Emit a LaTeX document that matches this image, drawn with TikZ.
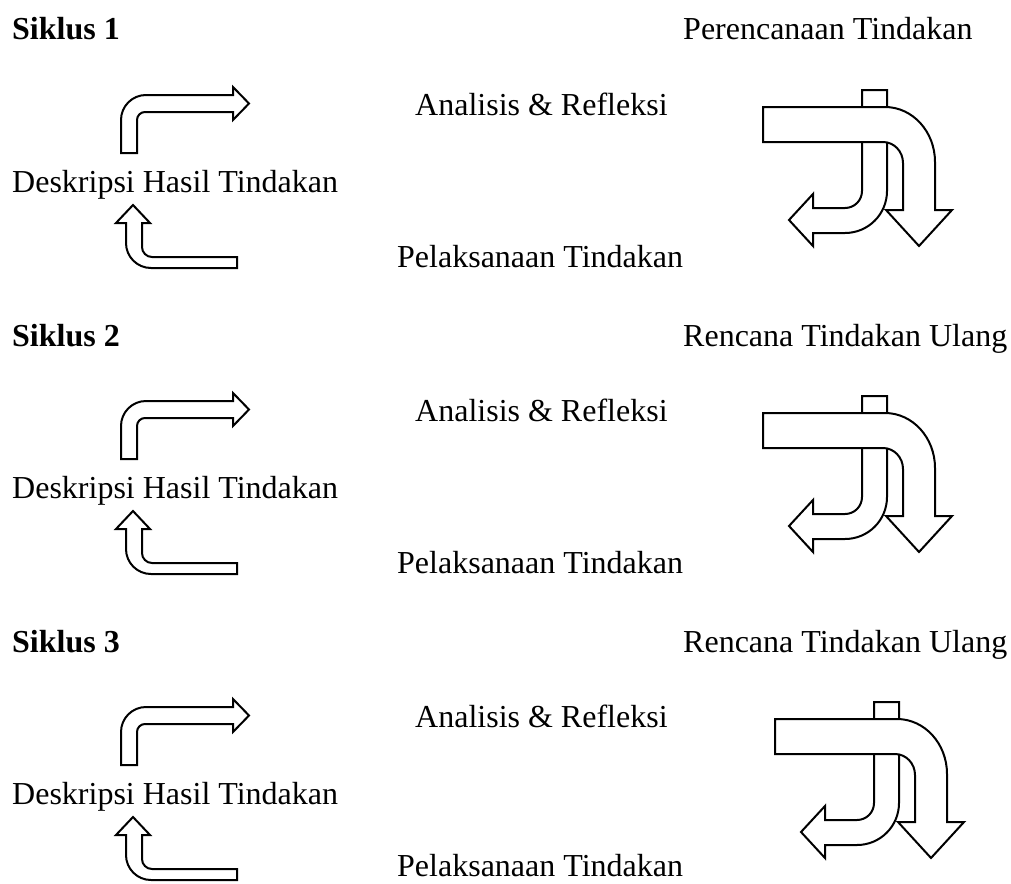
\documentclass[tikz,border=0pt]{standalone}
\usepackage{fontspec}
\setmainfont{Liberation Serif}
\begin{document}
\begin{tikzpicture}[x=1pt,y=-1pt,
  lbl/.style={anchor=base west,inner sep=0pt,font=\fontsize{32}{38}\selectfont},
  ttl/.style={lbl,font=\fontsize{32}{38}\selectfont\bfseries},
  arr/.style={draw=black,fill=white,line width=2pt,line join=miter}]
\useasboundingbox (0,0) rectangle (1011,883);
\foreach \s/\t/\rt/\dx/\pb in {0/1/Perencanaan Tindakan/0/267, 306/2/Rencana Tindakan Ulang/0/267, 612/3/Rencana Tindakan Ulang/12/264}{
\begin{scope}[shift={(0,\s)}]
  \node[ttl] (siklus\t) at (12,40) {Siklus \t};
  \node[lbl] (plan\t) at (683,40) {\rt};
  \node[lbl] (analisis\t) at (415,115) {Analisis \& Refleksi};
  \node[lbl] (desk\t) at (12,192) {Deskripsi Hasil Tindakan};
  \node[lbl] (pelak\t) at (397,\pb) {Pelaksanaan Tindakan};
  % top-left bent arrow
  \draw[arr] (121,153) -- (121,120) .. controls (121,106.2) and (132.2,95) .. (146,95)
    -- (233,95) -- (233,87) -- (249,103.5) -- (233,120) -- (233,112) -- (145,112)
    .. controls (140.6,112) and (137,115.6) .. (137,120) -- (137,153) -- cycle;
  % bottom-left bent arrow
  \draw[arr] (133,205) -- (150,223) -- (142,223) -- (142,247)
    .. controls (142,252.5) and (146.5,257) .. (152,257) -- (237,257) -- (237,268)
    -- (151,268) .. controls (137.2,268) and (126,256.8) .. (126,243)
    -- (126,223) -- (116,223) -- cycle;
  % right compound arrow
  \begin{scope}[shift={(\dx,0)}]
  \draw[arr] (862,90) -- (887,90) -- (887,191) .. controls (887,214.2) and (868.2,233) .. (845,233)
    -- (813,233) -- (813,246) -- (789,220) -- (813,194) -- (813,208) -- (845,208)
    .. controls (854.4,208) and (862,200.4) .. (862,191) -- cycle;
  \draw[arr] (763,107) -- (885,107) .. controls (912.6,107) and (935,131.6) .. (935,162)
    -- (935,210) -- (952,210) -- (919,246) -- (886,210) -- (903,210) -- (903,163)
    .. controls (903,151.4) and (894,142) .. (883,142) -- (763,142) -- cycle;
  \end{scope}
\end{scope}
}
\end{tikzpicture}
\end{document}
